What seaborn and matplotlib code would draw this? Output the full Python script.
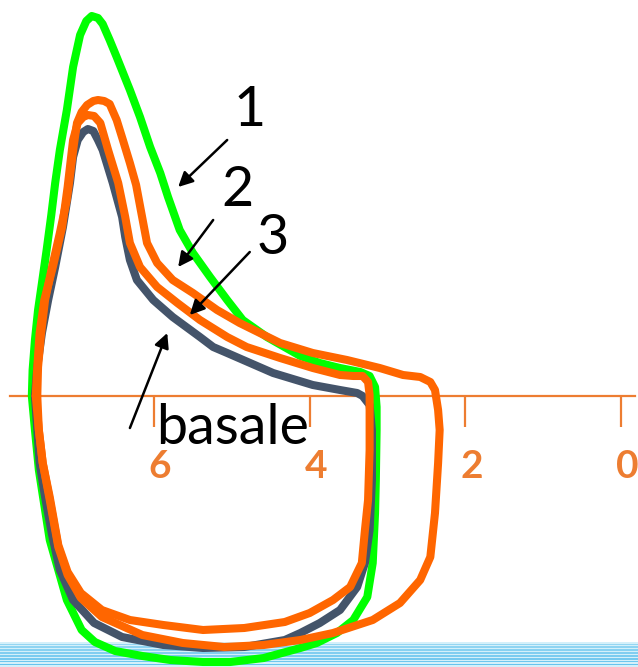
import matplotlib
matplotlib.use("Agg")
import matplotlib.pyplot as plt
from matplotlib.transforms import ScaledTranslation
import seaborn as sns
import numpy as np

# ---- data (volume, pressure) ----
# loop 1 (green)
vol_1 = [7.57, 7.56, 7.53, 7.49, 7.44, 7.38, 7.32, 7.27, 7.21, 7.12, 7.04, 6.95, 6.87, 6.80, 6.72,
         6.66, 6.57, 6.48, 6.31, 6.18, 6.05, 5.92, 5.82, 5.67, 5.50, 5.28, 5.06, 4.86, 4.55, 4.12,
         3.87, 3.61, 3.35, 3.23, 3.16, 3.14, 3.14, 3.15, 3.16, 3.19, 3.26, 3.44, 3.65, 3.91, 4.12,
         4.59, 5.02, 5.37, 5.79, 6.15, 6.50, 6.76, 6.93, 7.12, 7.23, 7.34, 7.41, 7.48, 7.53, 7.57]
pres_1 = [0, 6.5, 14, 21.5, 28.25, 36.5, 45.25, 53.25, 61.5, 71.5, 82.25, 90.25, 93.75, 95, 94.5,
          93, 89, 84.75, 76.5, 69.75, 62.25, 55.75, 49.75, 41.5, 35.75, 29.75, 24, 19, 14.75, 10,
          8.25, 7, 6, 5, 2.25, -2.75, -8.5, -21, -29.25, -41.75, -50.25, -56, -59.25, -61.75, -63,
          -65.5, -66.5, -66.5, -66, -65, -63.75, -61.5, -58.5, -51, -43.5, -36, -27.25, -18.5, -8.5, 0]

# basale (slate)
vol_b = [7.53, 7.50, 7.44, 7.36, 7.27, 7.17, 7.08, 7.04, 6.98, 6.91, 6.85, 6.78, 6.72, 6.66, 6.53,
         6.41, 6.37, 6.31, 6.22, 6.01, 5.76, 5.41, 5.24, 5.06, 4.47, 3.96, 3.61, 3.39, 3.32, 3.23,
         3.20, 3.20, 3.23, 3.29, 3.39, 3.61, 3.87, 4.12, 4.32, 4.84, 5.37, 5.88, 6.41, 6.77, 7.04,
         7.21, 7.31, 7.40, 7.47, 7.50, 7.53]
pres_b = [0, 7.25, 15.75, 24, 32.25, 42.25, 53.25, 59.75, 64, 66, 66.75, 66.25, 64, 61.5, 53.25,
          44.75, 39.75, 34, 29, 24, 19.75, 14.75, 12.25, 10.75, 5.75, 2.75, 1.5, 0.75, 0, -2.25,
          -8.5, -21, -33.5, -41.75, -47.75, -53.5, -56.75, -59.25, -61, -62.75, -63, -62.25, -60.25, -56.75, -51,
          -43.5, -34.75, -25.25, -16.75, -8.5, 0]

# loop 3 (orange, small)
vol_3 = [7.52, 7.50, 7.47, 7.41, 7.30, 7.18, 7.11, 7.07, 7.04, 6.98, 6.91, 6.85, 6.77, 6.69, 6.59,
         6.46, 6.37, 6.31, 6.18, 5.96, 5.70, 5.41, 5.06, 4.81, 4.38, 3.96, 3.61, 3.44, 3.32, 3.25,
         3.23, 3.23, 3.25, 3.29, 3.33, 3.48, 3.70, 4.00, 4.32, 4.84, 5.37, 5.88, 6.31, 6.67, 6.94,
         7.11, 7.23, 7.34, 7.43, 7.48, 7.52]
pres_3 = [0, 7.25, 15.75, 24, 32.25, 42.25, 52.25, 59, 64, 68.25, 69.75, 70.25, 70, 68.25, 61.5,
          53.25, 44.75, 38.25, 32.25, 27.25, 23.25, 19, 14.75, 12.25, 9.5, 7, 5.25, 5, 5, 3.5,
          0.25, -13.5, -26, -33.5, -41.75, -47.75, -51, -54.25, -56.5, -58, -58.5, -57.25, -56, -53.5, -49.25,
          -44, -37.25, -25.25, -16.75, -8.5, 0]

# loop 2 (orange, large)
vol_2 = [7.50, 7.49, 7.45, 7.40, 7.31, 7.21, 7.12, 7.07, 7.03, 6.99, 6.93, 6.86, 6.78, 6.72, 6.64,
         6.57, 6.48, 6.40, 6.31, 6.23, 6.17, 6.09, 5.96, 5.76, 5.50, 5.19, 4.90, 4.38, 3.96, 3.52,
         3.10, 2.80, 2.58, 2.45, 2.39, 2.35, 2.33, 2.35, 2.39, 2.45, 2.58, 2.84, 3.19, 3.70, 4.12,
         4.59, 5.10, 5.63, 6.15, 6.67, 6.94, 7.11, 7.23, 7.34, 7.43, 7.48, 7.50]
pres_2 = [0, 7.25, 15.75, 24, 32.25, 40.75, 49, 56.5, 62.75, 68.25, 71, 72.75, 73.75, 74, 73.75,
          73, 69, 64, 58.25, 52.75, 46.5, 38.25, 33.25, 29, 25.75, 21.5, 18.25, 13.25, 10.75, 9,
          7, 5.25, 4.75, 3.5, 1.5, -3.5, -8.5, -16.75, -29.25, -40.25, -46, -51.75, -56, -59.25, -61,
          -62.25, -62.75, -61.75, -59.75, -55.25, -50.5, -44.75, -37.75, -26, -16.75, -8.5, 0]

x_ticks = [6, 4, 2, 0]
x_tick_labels = ["6", "4", "2", "0"]

labels = ["1", "2", "3", "basale"]
label_pos = [(4.77, 71.5), (4.93, 51.5), (4.47, 39.5), (4.99, -8)]
arrow_from = [(5.06, 64), (5.24, 44), (4.77, 36), (6.31, -8)]
arrow_to = [(5.69, 52.25), (5.69, 32.25), (5.54, 20.25), (5.83, 15.75)]

# ---- figure ----
sns.set_theme(style="white")
plt.rcParams["font.family"] = ["Lato", "DejaVu Sans"]

fig = plt.figure(figsize=(6.38, 6.67), dpi=100)
ax = fig.add_axes([0, 0, 1, 1])
ax.set_xlim(7.979, -0.2184)
ax.set_ylim(-67.75, 99)

# decorative striped band at the bottom (slide background)
ax.axhspan(-67.75, -61.4, color="#cdeefa", alpha=0.85, lw=0, zorder=0)
for k in range(9):
    y0 = -61.9 - k * 0.72
    ax.axhspan(y0 - 0.38, y0, color="#55bdec", alpha=0.5 + 0.05 * k, lw=0, zorder=0)

orange = "#ff6600"
loops = [(vol_1, pres_1, "#00ff00", 3), (vol_b, pres_b, "#44546a", 4),
         (vol_3, pres_3, orange, 5), (vol_2, pres_2, orange, 6)]
for vx, py, col, z in loops:
    sns.lineplot(x=vx, y=py, sort=False, estimator=None, color=col, lw=5.8,
                 solid_joinstyle="round", solid_capstyle="round", zorder=z, ax=ax)

# axis styling
axis_col = "#ed7d31"
for s in ["left", "right", "top"]:
    ax.spines[s].set_visible(False)
ax.spines["bottom"].set_position(("data", 0))
ax.spines["bottom"].set_color(axis_col)
ax.spines["bottom"].set_linewidth(1.6)
ax.spines["bottom"].set_bounds(7.85, -0.18)
ax.spines["bottom"].set_zorder(2)
ax.set_yticks([])
ax.set_xticks(x_ticks)
ax.tick_params(axis="x", bottom=True, labelbottom=False, direction="out", length=22,
               width=1.6, color=axis_col)
ax.set_xlabel("")
ax.set_ylabel("")

shift = ScaledTranslation(6 / 100, 0, fig.dpi_scale_trans)
for xv, lab in zip(x_ticks, x_tick_labels):
    ax.text(xv, -17.75, lab, fontsize=28, fontweight="bold", color=axis_col,
            ha="center", va="center", transform=ax.transData + shift, zorder=7)

for txt, (tx, ty), a0, a1 in zip(labels, label_pos, arrow_from, arrow_to):
    ax.text(tx, ty, txt, fontsize=40, color="black", ha="center", va="center", zorder=8)
    ax.annotate("", xy=a1, xytext=a0,
                arrowprops=dict(arrowstyle="-|>", color="black", lw=1.8, mutation_scale=22,
                                shrinkA=0, shrinkB=0), zorder=8)

fig.savefig("out.png", dpi=100)
